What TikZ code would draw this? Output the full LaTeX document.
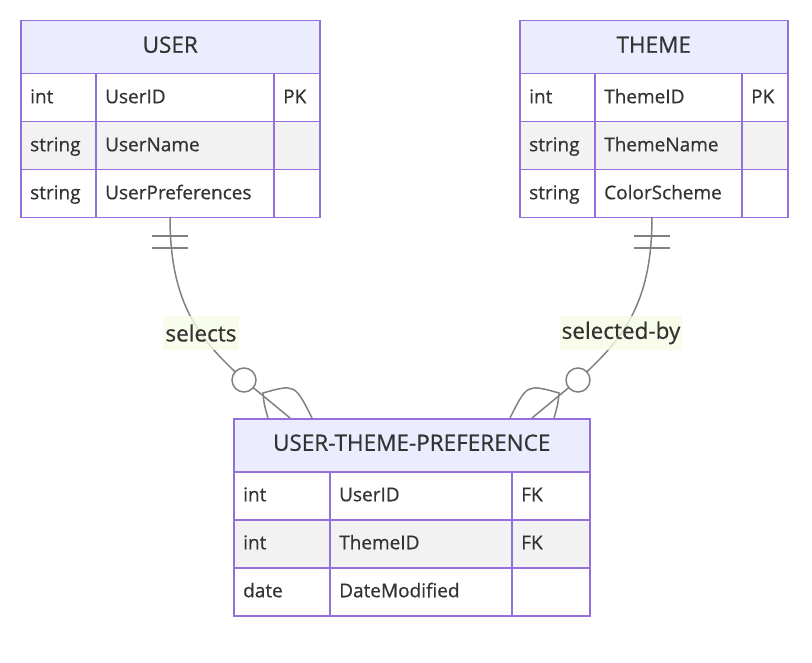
\documentclass[tikz,border=0pt]{standalone}
\usepackage{fontspec}
\setmainfont{Open Sans}[FakeBold=0.6]
\definecolor{erborder}{HTML}{9370DB}
\definecolor{erhead}{HTML}{ECECFF}
\definecolor{errow}{HTML}{F2F2F2}
\definecolor{erline}{HTML}{808080}
\definecolor{erlabel}{HTML}{F6FCE6}
\definecolor{ertext}{HTML}{333333}
\tikzset{
  hdr/.style={draw=erborder, fill=erhead, line width=1.5pt, anchor=north west, inner sep=0pt,
    minimum height=53pt},
  hdrtxt/.style={anchor=base, inner sep=0pt, text=ertext, font=\fontsize{22.5}{26}\selectfont},
  cellbox/.style={draw=erborder, line width=1.5pt, anchor=north west, inner sep=0pt, minimum height=48pt},
  oddrow/.style={fill=white},
  evenrow/.style={fill=errow},
  celltxt/.style={anchor=base west, inner sep=0pt, text=ertext, font=\fontsize{19}{22}\selectfont},
  conn/.style={draw=erline, line width=1.5pt},
  elabel/.style={fill=erlabel, fill opacity=0.8, text opacity=1, text=ertext, inner xsep=2pt,
    minimum height=34pt, font=\fontsize{22.5}{26}\selectfont}
}
\begin{document}
\begin{tikzpicture}[x=1pt,y=-1pt]
\useasboundingbox (0,0) rectangle (812,663);
% ---------- USER ----------
\node[hdr, minimum width=299pt] (user) at (20,20) {};
\node[hdrtxt] (usert) at ([yshift=-5.5pt]user.center) {USER};
\node[cellbox, oddrow, minimum width=75pt] (u11) at (20,73) {};
\node[cellbox, oddrow, minimum width=178pt] (u12) at (95,73) {};
\node[cellbox, oddrow, minimum width=46pt] (u13) at (273,73) {};
\node[cellbox, evenrow, minimum width=75pt] (u21) at (20,121) {};
\node[cellbox, evenrow, minimum width=178pt] (u22) at (95,121) {};
\node[cellbox, evenrow, minimum width=46pt] (u23) at (273,121) {};
\node[cellbox, oddrow, minimum width=75pt] (u31) at (20,169) {};
\node[cellbox, oddrow, minimum width=178pt] (u32) at (95,169) {};
\node[cellbox, oddrow, minimum width=46pt] (u33) at (273,169) {};
\node[celltxt] (u11t) at ([xshift=10pt,yshift=-5.5pt]u11.west) {int};
\node[celltxt] (u12t) at ([xshift=10pt,yshift=-5.5pt]u12.west) {UserID};
\node[celltxt] (u13t) at ([xshift=10pt,yshift=-5.5pt]u13.west) {PK};
\node[celltxt] (u21t) at ([xshift=10pt,yshift=-5.5pt]u21.west) {string};
\node[celltxt] (u22t) at ([xshift=10pt,yshift=-5.5pt]u22.west) {UserName};
\node[celltxt] (u31t) at ([xshift=10pt,yshift=-5.5pt]u31.west) {string};
\node[celltxt] (u32t) at ([xshift=10pt,yshift=-5.5pt]u32.west) {UserPreferences};
% ---------- THEME ----------
\node[hdr, minimum width=268pt] (theme) at (519,20) {};
\node[hdrtxt] (themet) at ([yshift=-5.5pt]theme.center) {THEME};
\node[cellbox, oddrow, minimum width=75pt] (t11) at (519,73) {};
\node[cellbox, oddrow, minimum width=147pt] (t12) at (594,73) {};
\node[cellbox, oddrow, minimum width=46pt] (t13) at (741,73) {};
\node[cellbox, evenrow, minimum width=75pt] (t21) at (519,121) {};
\node[cellbox, evenrow, minimum width=147pt] (t22) at (594,121) {};
\node[cellbox, evenrow, minimum width=46pt] (t23) at (741,121) {};
\node[cellbox, oddrow, minimum width=75pt] (t31) at (519,169) {};
\node[cellbox, oddrow, minimum width=147pt] (t32) at (594,169) {};
\node[cellbox, oddrow, minimum width=46pt] (t33) at (741,169) {};
\node[celltxt] (t11t) at ([xshift=10pt,yshift=-5.5pt]t11.west) {int};
\node[celltxt] (t12t) at ([xshift=10pt,yshift=-5.5pt]t12.west) {ThemeID};
\node[celltxt] (t13t) at ([xshift=10pt,yshift=-5.5pt]t13.west) {PK};
\node[celltxt] (t21t) at ([xshift=10pt,yshift=-5.5pt]t21.west) {string};
\node[celltxt] (t22t) at ([xshift=10pt,yshift=-5.5pt]t22.west) {ThemeName};
\node[celltxt] (t31t) at ([xshift=10pt,yshift=-5.5pt]t31.west) {string};
\node[celltxt] (t32t) at ([xshift=10pt,yshift=-5.5pt]t32.west) {ColorScheme};
% ---------- USER-THEME-PREFERENCE ----------
\node[hdr, minimum width=356pt] (utp) at (233,418) {};
\node[hdrtxt] (utpt) at ([yshift=-5.5pt]utp.center) {USER-THEME-PREFERENCE};
\node[cellbox, oddrow, minimum width=96pt] (p11) at (233,471) {};
\node[cellbox, oddrow, minimum width=182pt] (p12) at (329,471) {};
\node[cellbox, oddrow, minimum width=78pt] (p13) at (511,471) {};
\node[cellbox, evenrow, minimum width=96pt] (p21) at (233,519) {};
\node[cellbox, evenrow, minimum width=182pt] (p22) at (329,519) {};
\node[cellbox, evenrow, minimum width=78pt] (p23) at (511,519) {};
\node[cellbox, oddrow, minimum width=96pt] (p31) at (233,567) {};
\node[cellbox, oddrow, minimum width=182pt] (p32) at (329,567) {};
\node[cellbox, oddrow, minimum width=78pt] (p33) at (511,567) {};
\node[celltxt] (p11t) at ([xshift=10pt,yshift=-5.5pt]p11.west) {int};
\node[celltxt] (p12t) at ([xshift=10pt,yshift=-5.5pt]p12.west) {UserID};
\node[celltxt] (p13t) at ([xshift=10pt,yshift=-5.5pt]p13.west) {FK};
\node[celltxt] (p21t) at ([xshift=10pt,yshift=-5.5pt]p21.west) {int};
\node[celltxt] (p22t) at ([xshift=10pt,yshift=-5.5pt]p22.west) {ThemeID};
\node[celltxt] (p23t) at ([xshift=10pt,yshift=-5.5pt]p23.west) {FK};
\node[celltxt] (p31t) at ([xshift=10pt,yshift=-5.5pt]p31.west) {date};
\node[celltxt] (p32t) at ([xshift=10pt,yshift=-5.5pt]p32.west) {DateModified};
% ---------- anchors on the entity borders ----------
\coordinate (ua) at (170,217);
\coordinate (ta) at (652,217);
\coordinate (pl) at (290,418);
\coordinate (pr) at (532,418);
\coordinate (cl) at (244,380);
\coordinate (cr) at (578,380);
% ---------- USER -> UTP ----------
\draw[conn] (ua) .. controls (170,305) and (200,340) .. (cl) -- (pl);
\draw[conn] (152,236) -- (188,236);
\draw[conn] (152,248) -- (188,248);
\draw[conn] (268,418) .. controls (264,404) .. (263,393) .. controls (295,384) .. (312,418);
\draw[conn, fill=white] (cl) circle (12pt);
\node[elabel] (lsel) at (201,333) {selects};
% ---------- THEME -> UTP ----------
\draw[conn] (ta) .. controls (652,305) and (622,340) .. (cr) -- (pr);
\draw[conn] (634,236) -- (670,236);
\draw[conn] (634,248) -- (670,248);
\draw[conn] (554,418) .. controls (558,404) .. (559,393) .. controls (527,384) .. (510,418);
\draw[conn, fill=white] (cr) circle (12pt);
\node[elabel] (lselby) at (621,333) {selected-by};
\end{tikzpicture}
\end{document}
